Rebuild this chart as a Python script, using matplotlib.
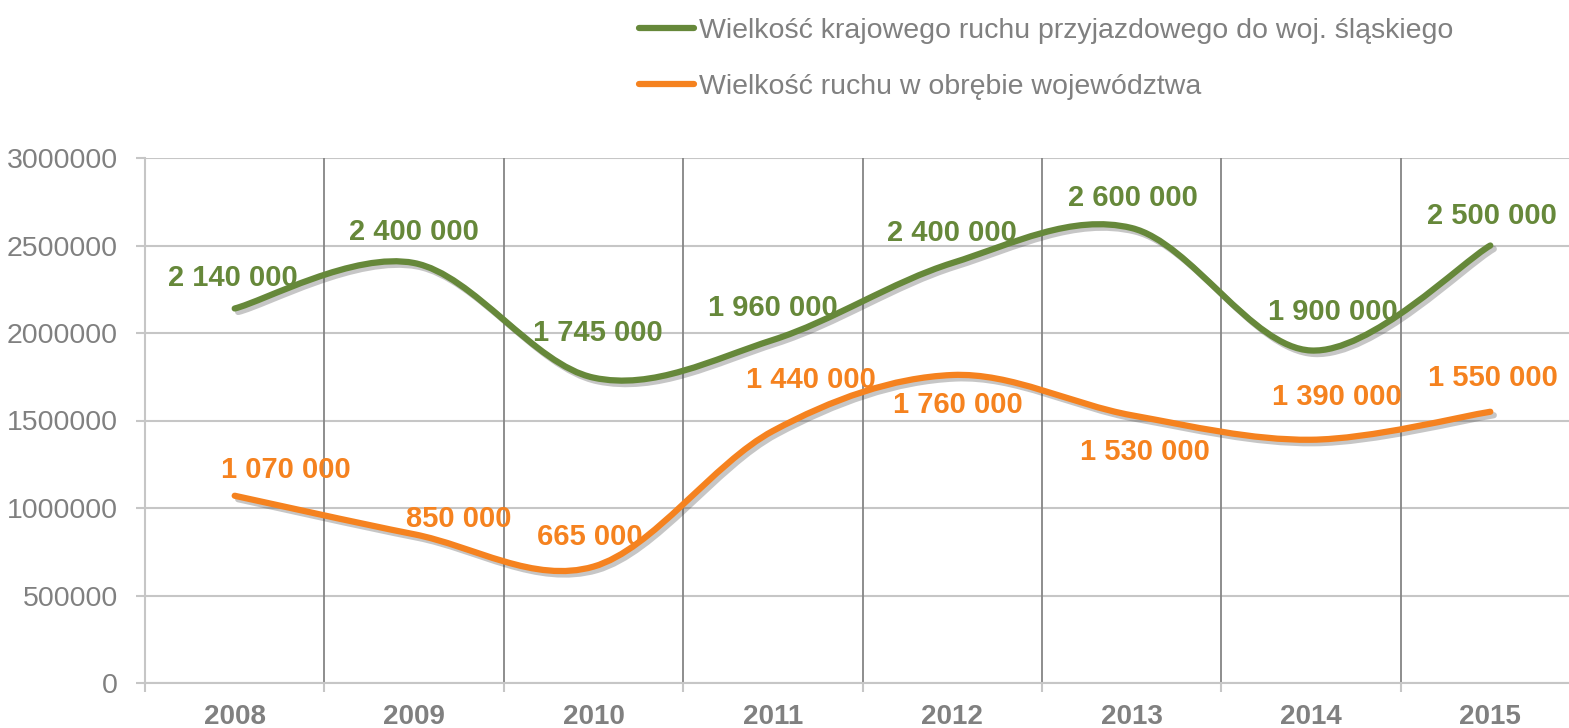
import numpy as np
import matplotlib
matplotlib.use("Agg")
import matplotlib.pyplot as plt
import matplotlib.patheffects as pe
from matplotlib.path import Path
from matplotlib.patches import PathPatch
from matplotlib.lines import Line2D
from matplotlib.ticker import StrMethodFormatter

plt.rcParams['font.family'] = ['Liberation Sans', 'DejaVu Sans']

# data
years = ['2008', '2009', '2010', '2011', '2012', '2013', '2014', '2015']
arrivals = [2140000, 2400000, 1745000, 1960000, 2400000, 2600000, 1900000, 2500000]
internal = [1070000, 850000, 665000, 1440000, 1760000, 1530000, 1390000, 1550000]
series_names = ['Wielkość krajowego ruchu przyjazdowego do woj. śląskiego',
                'Wielkość ruchu w obrębie województwa']

green = '#66883A'
orange = '#F5821F'
gray_text = '#808080'

# label offsets in pixels (dx, dy), hand placed like in the original
green_offsets = [(-2, 31), (0, 31), (4, 45), (0, 32), (0, 30), (1, 30), (22, 38), (2, 30)]
orange_offsets = [(51, 26), (45, 15), (-4, 30), (38, 51), (6, -30), (13, -37), (26, 43), (3, 34)]


def smooth_path(xs, ys):
    # excel-like smoothed line as cubic bezier segments
    pts = np.column_stack([xs, ys]).astype(float)
    n = len(pts)
    verts = [pts[0]]
    codes = [Path.MOVETO]
    for i in range(n - 1):
        p0 = pts[i - 1] if i > 0 else pts[i]
        p1 = pts[i]
        p2 = pts[i + 1]
        p3 = pts[i + 2] if i + 2 < n else pts[i + 1]
        verts += [p1 + (p2 - p0) / 6, p2 - (p3 - p1) / 6, p2]
        codes += [Path.CURVE4] * 3
    return Path(verts, codes)


fig = plt.figure(figsize=(15.69, 7.28), dpi=100)
ax = fig.add_axes([145 / 1569, 45 / 728, 1435 / 1569, 525 / 728])

x = np.arange(len(years))
ax.set_xlim(-0.5, len(years) - 0.5)
ax.set_ylim(0, 3000000)

for vals, col, offs in [(arrivals, green, green_offsets), (internal, orange, orange_offsets)]:
    patch = PathPatch(smooth_path(x, vals), facecolor='none', edgecolor=col, lw=4.5,
                      capstyle='round', zorder=3,
                      path_effects=[pe.SimpleLineShadow(offset=(2.5, -2.5), shadow_color='#444444', alpha=0.3),
                                    pe.Normal()])
    ax.add_patch(patch)
    for xi, v, (dx, dy) in zip(x, vals, offs):
        label = f'{v:,}'.replace(',', ' ')
        ax.annotate(label, (xi, v), xytext=(dx, dy), textcoords='offset pixels',
                    ha='center', va='center', fontsize=21, fontweight='bold', color=col, zorder=4)

# grid
ax.set_yticks(np.arange(0, 3000001, 500000))
ax.yaxis.set_major_formatter(StrMethodFormatter('{x:.0f}'))
ax.yaxis.grid(True, color='#C6C6C6', lw=1.5)
ax.set_axisbelow(True)
for b in np.arange(0.5, len(years) - 1, 1.0):
    ax.axvline(b, color='#858585', lw=1.3, zorder=1)

for side in ['top', 'right']:
    ax.spines[side].set_visible(False)
ax.spines['left'].set_color('#C6C6C6')
ax.spines['left'].set_linewidth(1.5)
ax.spines['bottom'].set_color('#C6C6C6')
ax.spines['bottom'].set_linewidth(1.5)

ax.set_xticks(np.arange(-0.5, len(years), 1.0))
ax.set_xticklabels([])
ax.set_xticks(x, minor=True)
ax.set_xticklabels(years, minor=True)
ax.tick_params(axis='x', which='major', length=6.5, width=1.5, color='#C6C6C6')
ax.tick_params(axis='x', which='minor', length=0, pad=15, labelsize=20, labelcolor=gray_text)
for t in ax.get_xticklabels(minor=True):
    t.set_fontweight('bold')
ax.tick_params(axis='y', length=6.5, width=1.5, color='#C6C6C6', pad=13, labelsize=20.5, labelcolor=gray_text)

handles = [Line2D([], [], color=green, lw=4.5, solid_capstyle='round'),
           Line2D([], [], color=orange, lw=4.5, solid_capstyle='round')]
fig.legend(handles, series_names, loc='upper left', bbox_to_anchor=(616 / 1569, 1.0 + 5 / 728),
           frameon=False, fontsize=20.5, labelcolor=gray_text, handlelength=1.95,
           handletextpad=0.15, labelspacing=1.05, borderaxespad=0.4)

fig.savefig('out.png', dpi=100)
